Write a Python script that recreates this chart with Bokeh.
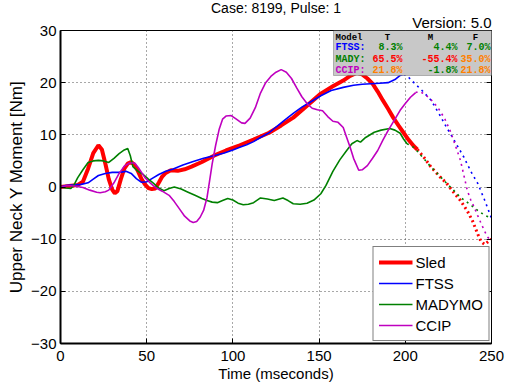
from bokeh.plotting import figure
from bokeh.models import (Legend, LegendItem, Label, BoxAnnotation, LinearAxis,
                          FixedTicker, Range1d, Title, CustomJSTickFormatter)
from bokeh.embed import file_html
from bokeh.resources import INLINE

# ---------------- data ----------------
sled_t = [0, 5, 10, 13, 16, 19, 22, 24, 26, 28, 30, 31.5, 33, 35, 37, 39, 41, 43, 45, 47, 49,
          51, 53, 55, 57, 59, 61, 64, 68, 72, 76, 82, 89, 96, 104, 112, 121, 128, 135, 143,
          151, 158, 164, 168, 172, 175, 178, 181, 184, 187, 190, 193, 196, 199, 202, 205, 207]
sled_y = [0, 0.2, 0.4, 1.0, 3.5, 6.5, 8.0, 7.2, 4.5, 1.5, -0.5, -1.2, -0.8, 1.5, 3.5, 4.5, 4.8,
          4.2, 3.0, 1.5, 0.5, -0.2, -0.4, -0.3, 0.8, 2.0, 2.7, 3.2, 3.1, 3.4, 3.9, 4.8, 6.0, 7.0,
          8.0, 9.1, 10.4, 11.8, 13.3, 15.6, 17.9, 19.3, 20.4, 21.3, 21.9, 21.6, 20.8, 19.8, 18.3,
          16.6, 15.0, 13.3, 11.8, 10.4, 9.0, 7.8, 7.2]
sled_ext_t = [207, 211, 215, 220, 224, 228, 232, 236, 239, 242, 244, 246, 248, 250]
sled_ext_y = [7.2, 5.6, 3.8, 2.0, 0.7, -1.0, -2.6, -4.6, -6.5, -9.0, -10.5, -11.0, -10.5, -10.0]

ftss_t = [0, 3, 8, 12, 16, 19, 22, 26, 30, 34, 38, 41, 44, 47, 50, 53, 57, 61, 65, 71, 77, 83,
          89, 95, 100, 104, 108, 112, 116, 121, 125, 130, 135, 140, 145, 151, 157, 164, 170,
          175, 180, 185, 190, 194, 197, 199]
ftss_y = [0, 0.3, 0.4, 0.5, 0.8, 1.5, 2.2, 2.6, 2.8, 2.8, 3.0, 2.6, 1.6, 0.9, 1.0, 1.6, 2.4,
          3.0, 3.4, 4.2, 4.9, 5.5, 6.0, 6.5, 7.1, 7.6, 8.1, 8.7, 9.5, 10.4, 11.5, 12.8, 14.1,
          15.3, 16.3, 17.5, 18.5, 19.1, 19.5, 19.7, 19.8, 19.9, 20.0, 20.6, 21.4, 21.6]
ftss_ext_t = [199, 202, 205, 210, 215, 220, 224, 229, 234, 238, 242, 246, 250]
ftss_ext_y = [21.6, 21.0, 20.0, 18.4, 16.6, 13.8, 11.4, 8.6, 5.7, 3.0, 0.7, -2.5, -6.0]

mady_t = [0, 3, 6, 8, 10, 13, 16, 19, 22, 25, 28, 31, 34, 37, 39, 40.5, 42, 45, 48, 51, 54,
          57, 60, 63, 66, 70, 74, 78, 82, 85, 88, 91, 94, 97, 100, 103, 106, 109, 112, 116,
          120, 124, 129, 132, 135, 139, 143, 147, 151, 154, 158, 162, 166, 169, 172, 174, 177,
          182, 186, 191, 194, 197, 199, 201]
mady_y = [0, -0.2, -0.3, 0.5, 1.8, 3.3, 4.7, 5.0, 5.1, 5.0, 4.7, 5.5, 6.4, 7.1, 7.4, 6.0, 3.9,
          3.0, 2.4, 1.5, 0.7, -0.2, -0.7, -0.3, 0.0, -0.4, -1.0, -1.6, -2.2, -2.6, -2.9, -3.0,
          -2.6, -2.2, -2.5, -3.1, -3.4, -3.3, -3.0, -2.1, -2.3, -2.6, -2.1, -2.6, -3.2, -3.3,
          -3.1, -2.5, -1.3, 0.3, 3.0, 5.2, 7.0, 8.3, 8.9, 8.6, 9.5, 10.5, 10.9, 11.2, 10.9,
          10.3, 9.2, 8.3]
mady_ext_t = [201, 205, 210, 215, 220, 224, 228, 232, 237, 242, 246, 250]
mady_ext_y = [8.3, 7.6, 5.7, 3.8, 2.1, 0.7, -0.6, -2.0, -3.2, -4.5, -5.4, -6.0]

ccip_t = [0, 4, 8, 13, 17, 21, 23, 26, 28, 31, 34, 37, 40, 43, 45, 47, 49, 52, 55, 59, 63, 66,
          69, 72, 75, 77, 79, 81, 83, 85, 86.5, 88, 90, 92, 94, 96, 99, 102, 105, 107, 110,
          113, 116, 119, 122, 125, 128, 131, 134, 137, 140, 143, 146, 149, 152, 155, 158, 161,
          164, 166, 168, 170, 173, 175, 178, 181, 184, 187, 190, 194, 197, 200, 203, 206]
ccip_y = [0, 0.3, 0.2, -0.1, -0.6, -1.0, -1.1, -0.9, -0.6, 0.8, 2.6, 4.0, 4.6, 4.6, 3.8, 2.8,
          1.8, 0.8, -0.1, -0.8, -1.6, -2.8, -4.2, -5.6, -6.5, -6.8, -6.6, -5.8, -4.5, -2.0, 1.2,
          4.5, 8.0, 11.0, 13.0, 13.6, 13.7, 13.0, 12.3, 12.2, 13.2, 15.2, 18.0, 20.0, 21.2,
          22.0, 22.5, 22.0, 20.8, 19.0, 17.3, 16.0, 15.1, 14.8, 14.6, 13.5, 12.6, 12.4, 11.4,
          9.5, 7.6, 5.5, 3.2, 3.3, 4.1, 5.5, 7.0, 9.0, 10.8, 13.0, 14.7, 16.0, 17.2, 18.1]
ccip_ext_t = [206, 208, 211, 215, 219, 223, 226, 229, 232, 234, 236, 238, 240, 242, 244, 246,
              248, 250]
ccip_ext_y = [18.1, 18.3, 17.9, 16.7, 15.2, 13.0, 10.8, 8.0, 5.1, 2.2, -0.7, -2.5, -3.9, -5.5,
              -7.0, -8.5, -9.7, -10.5]

series_names = ["Sled", "FTSS", "MADYMO", "CCIP"]
x_ticks = [0, 50, 100, 150, 200, 250]
y_ticks = [-30, -20, -10, 0, 10, 20, 30]

title_text = "Case: 8199, Pulse: 1"
version_text = "Version: 5.0"
table_header = ["Model", "T", "M", "F"]
table_models = ["FTSS:", "MADY:", "CCIP:"]
table_values = [["8.3%", "4.4%", "7.0%"],
                ["65.5%", "-55.4%", "35.0%"],
                ["21.8%", "-1.8%", "21.8%"]]

# ---------------- styling ----------------
RED = "#ff0000"
BLUE = "#0000ff"
GREEN = "#008000"
MAG = "#bf00bf"
ORANGE = "#ff8000"
model_colors = [BLUE, GREEN, MAG]
value_colors = [[GREEN, GREEN, GREEN],
                [RED, RED, ORANGE],
                [ORANGE, GREEN, ORANGE]]
FONT = "Liberation Sans"
MONO = "Liberation Mono"

p = figure(width=508, height=390, x_range=Range1d(0, 250), y_range=Range1d(-30, 30),
           output_backend="svg", toolbar_location=None, title=None,
           min_border_left=60, min_border_right=17, min_border_top=30, min_border_bottom=47)
p.background_fill_color = "white"
p.border_fill_color = "white"
p.outline_line_color = "black"
p.outline_line_width = 1

# page-pixel -> data helpers (frame: x 60..491, y 30..343 on page)
def dx(px):
    return (px - 60) * 250.0 / 431.0

def dy(py):
    return 30 - (py - 30) * 60.0 / 313.0

# grid
for g in (p.xgrid, p.ygrid):
    g.grid_line_color = "#333333"
    g.grid_line_dash = "1 3"
    g.grid_line_width = 1
    g.grid_line_alpha = 0.85
p.xgrid.ticker = FixedTicker(ticks=x_ticks)
p.ygrid.ticker = FixedTicker(ticks=y_ticks)

# axes
for ax in (p.xaxis[0], p.yaxis[0]):
    ax.axis_line_color = "black"
    ax.axis_line_width = 2
    ax.major_tick_in = 5
    ax.major_tick_out = 0
    ax.minor_tick_in = 0
    ax.minor_tick_out = 0
    ax.major_tick_line_color = "black"
    ax.major_tick_line_width = 1
    ax.major_label_text_font = FONT
    ax.major_label_text_font_size = "15px"
    ax.major_label_text_color = "black"
    ax.axis_label_text_font = FONT
    ax.axis_label_text_font_style = "normal"
    ax.axis_label_text_color = "black"
p.xaxis[0].ticker = FixedTicker(ticks=x_ticks)
p.yaxis[0].ticker = FixedTicker(ticks=y_ticks)
p.xaxis[0].axis_label = "Time (mseconds)"
p.xaxis[0].axis_label_text_font_size = "15px"
p.xaxis[0].major_label_standoff = 7
p.xaxis[0].axis_label_standoff = 1
p.yaxis[0].axis_label = "Upper Neck Y Moment [Nm]"
p.yaxis[0].axis_label_text_font_size = "17px"
p.yaxis[0].major_label_standoff = 4
p.yaxis[0].axis_label_standoff = 2

# box ticks on the right side (no labels)
rax = LinearAxis(ticker=FixedTicker(ticks=y_ticks),
                 formatter=CustomJSTickFormatter(code="return ''"),
                 major_tick_in=5, major_tick_out=0, minor_tick_in=0, minor_tick_out=0,
                 axis_line_color="black", major_label_standoff=0)
p.add_layout(rax, "right")

# titles: first added sits nearest the frame
p.add_layout(Title(text=version_text, align="right", text_font=FONT, text_font_size="15px",
                   text_font_style="normal", text_color="black", standoff=0, offset=0),
             "above")
p.add_layout(Title(text=title_text, align="center", text_font=FONT, text_font_size="14px",
                   text_font_style="normal", text_color="black", standoff=-9, offset=-5),
             "above")

# lines
r_sled = p.line(sled_t, sled_y, line_color=RED, line_width=4)
p.line(sled_ext_t, sled_ext_y, line_color=RED, line_width=3, line_dash="2 3")
r_ftss = p.line(ftss_t, ftss_y, line_color=BLUE, line_width=1.6)
p.line(ftss_ext_t, ftss_ext_y, line_color=BLUE, line_width=1.6, line_dash="2 4")
r_mady = p.line(mady_t, mady_y, line_color=GREEN, line_width=1.6)
p.line(mady_ext_t, mady_ext_y, line_color=GREEN, line_width=1.6, line_dash="2 4")
r_ccip = p.line(ccip_t, ccip_y, line_color=MAG, line_width=1.6)
p.line(ccip_ext_t, ccip_ext_y, line_color=MAG, line_width=1.6, line_dash="2 4")

# legend
legend = Legend(items=[LegendItem(label=n, renderers=[r]) for n, r in
                       zip(series_names, [r_sled, r_ftss, r_mady, r_ccip])],
                location="bottom_right", margin=2, padding=5, spacing=1,
                glyph_width=34, glyph_height=20, label_height=20, label_standoff=3,
                label_text_font=FONT, label_text_font_size="15px", label_text_color="black",
                border_line_color="black", border_line_width=1,
                background_fill_color="white", background_fill_alpha=1)
p.add_layout(legend, "center")

# info table
p.add_layout(BoxAnnotation(left=dx(333), right=dx(494), top=30, bottom=dy(75),
                           fill_color="#c8c8c8", fill_alpha=1, line_color="#333333",
                           line_width=1, level="overlay"))
header_x = [335, 387, 430, 475]
header_align = ["left", "center", "center", "center"]
for txt, hx, al in zip(table_header, header_x, header_align):
    p.add_layout(Label(x=dx(hx), y=dy(37), text=txt, text_align=al, text_baseline="alphabetic",
                       text_font=MONO, text_font_style="bold", text_font_size="9px",
                       text_color="black", level="overlay"))
row_base = [47, 58.5, 70]
col_right = [402, 457, 490]
for i, model in enumerate(table_models):
    p.add_layout(Label(x=dx(335), y=dy(row_base[i]), text=model, text_align="left",
                       text_baseline="alphabetic", text_font=MONO, text_font_style="bold",
                       text_font_size="10px", text_color=model_colors[i], level="overlay"))
    for j, v in enumerate(table_values[i]):
        p.add_layout(Label(x=dx(col_right[j]), y=dy(row_base[i]), text=v, text_align="right",
                           text_baseline="alphabetic", text_font=MONO, text_font_style="bold",
                           text_font_size="10px", text_color=value_colors[i][j],
                           level="overlay"))

open("out.html", "w").write(file_html(p, INLINE))
